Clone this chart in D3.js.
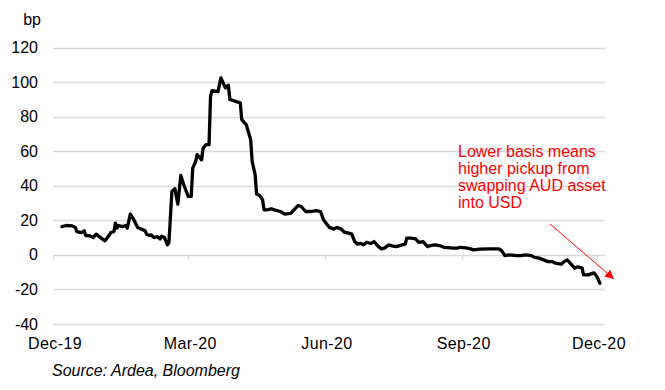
<!DOCTYPE html>
<html>
<head>
<meta charset="utf-8">
<script src="https://cdn.jsdelivr.net/npm/d3@7"></script>
<style>
  html, body { margin: 0; padding: 0; background: #fff; }
  svg { display: block; font-family: "Liberation Sans", Arial, sans-serif; }
</style>
</head>
<body>
<svg id="chart" width="665" height="390"></svg>
<script>
// ---- Data ----
const dates = [
  "2019-12-07","2019-12-10","2019-12-14","2019-12-16","2019-12-17","2019-12-20","2019-12-22","2019-12-23",
  "2019-12-26","2019-12-28","2019-12-30","2020-01-02","2020-01-05","2020-01-08","2020-01-09","2020-01-11",
  "2020-01-12","2020-01-13","2020-01-14","2020-01-17","2020-01-19","2020-01-20","2020-01-22","2020-01-24",
  "2020-01-27","2020-01-30","2020-02-01","2020-02-02","2020-02-04","2020-02-05","2020-02-07","2020-02-09",
  "2020-02-11","2020-02-12","2020-02-14","2020-02-16","2020-02-17","2020-02-19","2020-02-21","2020-02-23",
  "2020-02-25","2020-02-27","2020-03-01","2020-03-03","2020-03-04","2020-03-06","2020-03-07","2020-03-10",
  "2020-03-11","2020-03-13","2020-03-15","2020-03-16","2020-03-17","2020-03-21","2020-03-23","2020-03-26",
  "2020-03-28","2020-03-29","2020-04-03","2020-04-05","2020-04-06","2020-04-09","2020-04-12","2020-04-13",
  "2020-04-15","2020-04-16","2020-04-18","2020-04-20","2020-04-21","2020-04-23","2020-04-26","2020-04-28",
  "2020-05-02","2020-05-05","2020-05-09","2020-05-11","2020-05-14","2020-05-16","2020-05-19","2020-05-23",
  "2020-05-26","2020-05-29","2020-05-31","2020-06-02","2020-06-04","2020-06-07","2020-06-09","2020-06-12",
  "2020-06-14","2020-06-17","2020-06-19","2020-06-21","2020-06-23","2020-06-25","2020-06-27","2020-06-29",
  "2020-07-02","2020-07-04","2020-07-07","2020-07-09","2020-07-11","2020-07-14","2020-07-16","2020-07-19",
  "2020-07-23","2020-07-25","2020-07-26","2020-07-29","2020-08-01","2020-08-03","2020-08-06","2020-08-09",
  "2020-08-11","2020-08-14","2020-08-17","2020-08-20","2020-08-23","2020-08-26","2020-08-29","2020-08-31",
  "2020-09-04","2020-09-07","2020-09-09","2020-09-13","2020-09-20","2020-09-26","2020-09-28","2020-09-30",
  "2020-10-03","2020-10-08","2020-10-11","2020-10-14","2020-10-18","2020-10-20","2020-10-23","2020-10-26",
  "2020-10-29","2020-11-01","2020-11-03","2020-11-07","2020-11-09","2020-11-11","2020-11-14","2020-11-16",
  "2020-11-18","2020-11-21","2020-11-22","2020-11-25","2020-11-27","2020-11-29","2020-12-01","2020-12-03"
];
const basis = [
  16.4,17.0,16.8,15.9,13.5,12.9,13.9,11.2,
  11.0,10.0,12.0,10.0,8.1,11.6,13.1,13.5,
  18.4,15.5,17.0,16.4,17.0,15.5,23.6,20.9,
  15.9,14.7,13.9,12.0,11.2,11.6,10.0,10.6,
  9.2,10.8,10.0,5.8,7.0,36.7,38.3,29.4,
  46.0,40.6,33.8,33.8,50.2,54.0,58.0,55.0,
  61.8,63.8,63.8,91.8,95.0,94.5,102.4,96.6,
  98.2,89.9,88.5,88.0,78.3,75.4,66.7,54.1,
  46.4,35.2,34.4,31.9,26.1,26.0,26.7,26.0,
  25.1,23.6,24.0,25.9,28.6,28.0,25.1,25.1,
  25.6,25.1,20.3,18.0,15.9,14.9,15.9,14.9,
  13.1,12.6,12.0,7.7,6.2,6.6,5.8,7.3,
  6.6,7.7,4.8,3.5,3.9,5.8,5.2,4.8,
  5.8,6.2,9.7,9.7,9.2,7.3,7.7,4.8,
  5.4,5.8,5.4,4.4,4.2,3.9,3.9,4.4,
  4.0,3.5,2.9,3.3,3.5,3.5,2.3,-0.4,
  0.0,-0.4,-0.4,0.0,-0.4,-1.5,-1.9,-2.9,
  -3.9,-3.9,-4.8,-5.4,-3.9,-2.9,-5.8,-7.7,
  -6.9,-7.7,-11.6,-11.6,-11.0,-10.4,-12.6,-16.4
];
const yTicks = [-40, -20, 0, 20, 40, 60, 80, 100, 120];
const xTickDates = ["2019-12-01","2020-03-01","2020-06-01","2020-09-01","2020-12-01"];
const xTickLabels = ["Dec-19","Mar-20","Jun-20","Sep-20","Dec-20"];
const unitLabel = "bp";
const sourceText = "Source: Ardea, Bloomberg";
const noteLines = ["Lower basis means", "higher pickup from", "swapping AUD asset", "into USD"];

// ---- Drawing ----
const parse = d3.timeParse("%Y-%m-%d");
const data = dates.map((d, i) => ({ date: parse(d), value: basis[i] }));

const svg = d3.select("#chart");
const x = d3.scaleTime()
  .domain([parse("2019-12-01"), new Date(2020, 11, 6, 10)])
  .range([53, 605]);
const y = d3.scaleLinear().domain([-40, 120]).range([324, 47.5]);

// gridlines
svg.append("g").selectAll("line").data(yTicks).join("line")
  .attr("x1", x.range()[0]).attr("x2", x.range()[1])
  .attr("y1", d => Math.round(y(d)) + 0.5).attr("y2", d => Math.round(y(d)) + 0.5)
  .attr("stroke", "#d9d9d9").attr("stroke-width", 1.3);

// y labels
svg.append("g").selectAll("text").data(yTicks).join("text")
  .attr("x", 38).attr("y", d => y(d))
  .attr("dy", "0.35em").attr("text-anchor", "end")
  .attr("font-size", 16).attr("fill", "#000")
  .text(d => d);

svg.append("text").attr("x", 41).attr("y", 25).attr("text-anchor", "end")
  .attr("font-size", 16).text(unitLabel);

// x axis ticks on zero line
const tickDates = xTickDates.map(parse);
svg.append("g").selectAll("line").data(tickDates).join("line")
  .attr("x1", d => Math.round(x(d)) + 0.5).attr("x2", d => Math.round(x(d)) + 0.5)
  .attr("y1", y(0)).attr("y2", y(0) + 5.5)
  .attr("stroke", "#d9d9d9").attr("stroke-width", 1.3);

svg.append("g").selectAll("text").data(tickDates).join("text")
  .attr("x", d => x(d) + 2).attr("y", 349)
  .attr("text-anchor", "middle").attr("font-size", 16)
  .attr("letter-spacing", 0.4)
  .text((d, i) => xTickLabels[i]);

// line
const line = d3.line().x(d => x(d.date)).y(d => y(d.value));
svg.append("path").datum(data)
  .attr("d", line).attr("fill", "none")
  .attr("stroke", "#000").attr("stroke-width", 3.3)
  .attr("stroke-linejoin", "round").attr("stroke-linecap", "round");

// annotation
svg.append("g").selectAll("text").data(noteLines).join("text")
  .attr("x", 458).attr("y", (d, i) => 157 + i * 17)
  .attr("font-size", 16).attr("fill", "#ff0000")
  .text(d => d);

svg.append("defs").append("marker")
  .attr("id", "arrow").attr("viewBox", "0 0 10 10")
  .attr("refX", 10).attr("refY", 5)
  .attr("markerWidth", 9).attr("markerHeight", 9)
  .attr("markerUnits", "userSpaceOnUse")
  .attr("orient", "auto")
  .append("path").attr("d", "M0,0 L10,5 L0,10 z").attr("fill", "#ff0000");

svg.append("line")
  .attr("x1", 550).attr("y1", 224).attr("x2", 614).attr("y2", 279)
  .attr("stroke", "#ff0000").attr("stroke-width", 1)
  .attr("marker-end", "url(#arrow)");

// source
svg.append("text").attr("x", 52).attr("y", 376)
  .attr("font-size", 16).attr("font-style", "italic")
  .text(sourceText);
</script>
</body>
</html>
